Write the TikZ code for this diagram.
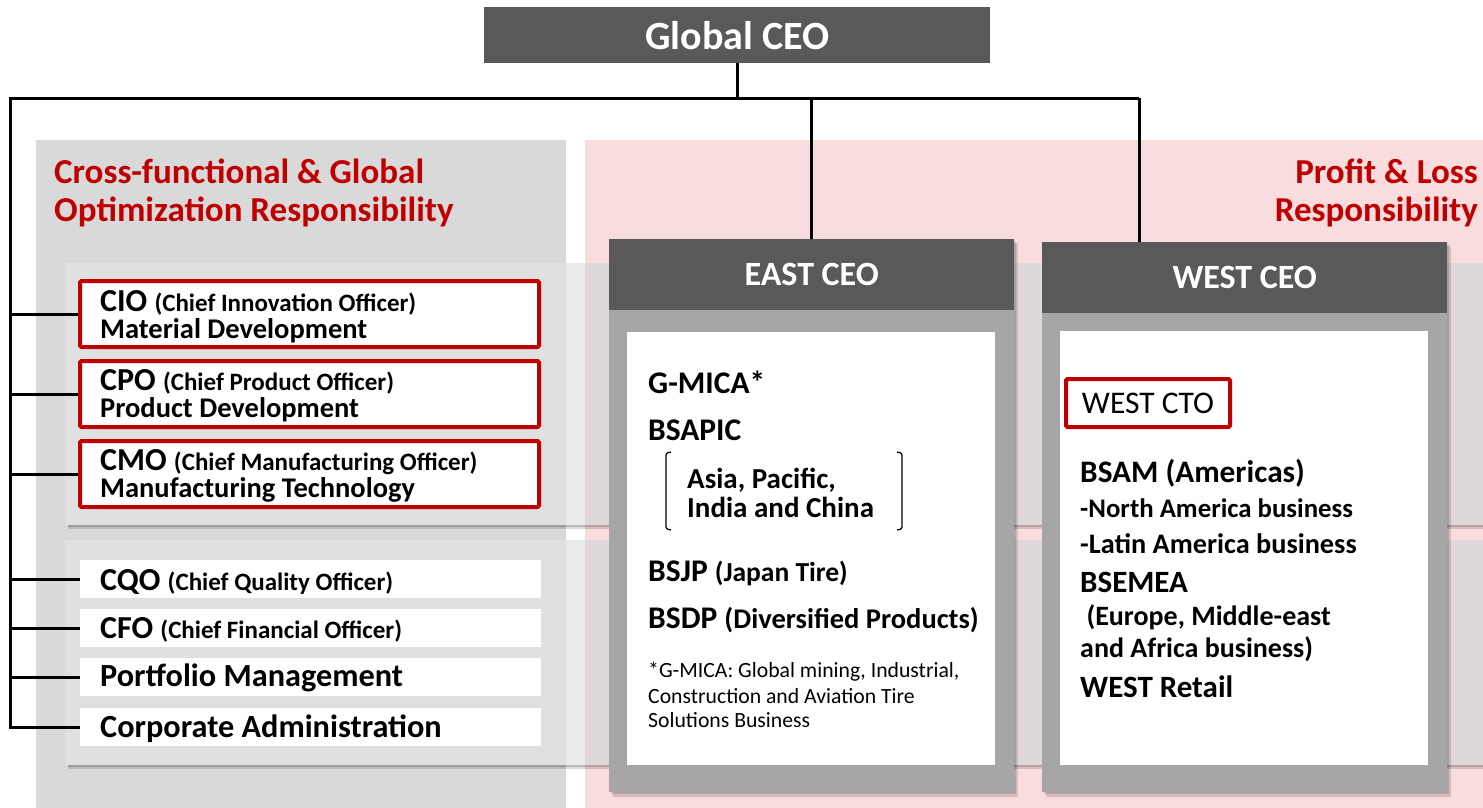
\documentclass[tikz,border=0pt]{standalone}
\usepackage{fontspec}
\setmainfont{Carlito}
\definecolor{dg}{HTML}{595959}
\definecolor{mg}{HTML}{A6A6A6}
\definecolor{lg}{HTML}{D9D9D9}
\definecolor{pk}{HTML}{F9DCDD}
\definecolor{rd}{HTML}{C00000}
\definecolor{bandg}{HTML}{E0E0E0}
\definecolor{bandw}{HTML}{EAEAEA}
\definecolor{bandp}{HTML}{DED8D9}
\newcommand{\fs}[1]{\fontsize{#1}{#1}\selectfont}
\begin{document}
\begin{tikzpicture}[x=1pt,y=-1pt,
  conn/.style={line width=3pt, black},
  redbox/.style={draw=rd, line width=4pt, rounded corners=1.5pt, fill=white, inner sep=0pt, minimum width=459pt, minimum height=66pt},
  whitebox/.style={fill=white, inner sep=0pt, minimum width=461pt, minimum height=38pt},
  hdr/.style={fill=dg, text=white, inner sep=0pt, anchor=north west, minimum width=405pt, minimum height=71pt, font=\bfseries\fs{34}},
  txt/.style={anchor=base west, inner sep=0pt, font=\bfseries},
  ttl/.style={inner sep=0pt, text=rd, font=\bfseries\fs{35}},
  shd/.style={fill=black, opacity=0.14}
]
\useasboundingbox (0,0) rectangle (1483,808);
% panels
\fill[lg] (36,140) rectangle (566,808);
\fill[pk] (585,140) rectangle (1483,808);
\node[ttl, anchor=base west] (t1) at (54,183) {Cross-functional \& Global};
\node[ttl, anchor=base west] (t2) at (54,221) {Optimization Responsibility};
\node[ttl, anchor=base east] (t3) at (1478,183) {Profit \& Loss};
\node[ttl, anchor=base east] (t4) at (1478,221) {Responsibility};
% bands
\foreach \a/\b in {263/525, 540/765}{
  \fill[shd] (68,\a+3) rectangle (1483,\b+4);
  \fill[shd] (68,\a+2) rectangle (1483,\b+2);
  \fill[bandg] (65,\a) rectangle (566,\b);
  \fill[bandw] (566,\a) rectangle (585,\b);
  \fill[bandp] (585,\a) rectangle (1483,\b);
}
% global CEO
\node[fill=dg, text=white, inner sep=0pt, anchor=north west, minimum width=506pt, minimum height=56pt, font=\bfseries\fs{40}] (gceo) at (484,7) {Global CEO};
% left boxes
\node[redbox] (cio) at (309.5,314) {};
\node[redbox] (cpo) at (309.5,394) {};
\node[redbox] (cmo) at (309.5,474) {};
\node[whitebox] (cqo) at (310.5,579) {};
\node[whitebox] (cfo) at (310.5,628) {};
\node[whitebox] (pm) at (310.5,677) {};
\node[whitebox] (corp) at (310.5,727) {};
\node[txt] (cio1) at (100,311) {\fs{32}CIO \fs{25}(Chief Innovation Officer)};
\node[txt] (cio2) at (100,338) {\fs{28.5}Material Development};
\node[txt] (cpo1) at (100,390) {\fs{32}CPO \fs{25}(Chief Product Officer)};
\node[txt] (cpo2) at (100,417) {\fs{28.5}Product Development};
\node[txt] (cmo1) at (100,470) {\fs{32}CMO \fs{25}(Chief Manufacturing Officer)};
\node[txt] (cmo2) at (100,497) {\fs{28.5}Manufacturing Technology};
\node[txt] (cqo1) at (100,590) {\fs{32}CQO \fs{25}(Chief Quality Officer)};
\node[txt] (cfo1) at (100,638) {\fs{32}CFO \fs{25}(Chief Financial Officer)};
\node[txt] (pm1) at (100,686) {\fs{32.3}Portfolio Management};
\node[txt] (corp1) at (100,737) {\fs{32.3}Corporate Administration};
% connectors
\coordinate (lt) at (10,98);
\coordinate (rt) at (1139,98);
\draw[conn] (gceo.south) -- (gceo.south |- lt);
\draw[conn] (rt) -- (lt) -- (lt |- corp.west) -- (corp.west);
\foreach \n in {cio,cpo,cmo,cqo,cfo,pm}{
  \draw[conn] (lt |- \n.west) -- (\n.west);
}
% EAST
\fill[shd] (613,243) rectangle (1018,797);
\fill[shd] (611,241) rectangle (1016,794);
\fill[mg] (609,239) rectangle (1014,792);
\node[hdr] (east) at (609,239) {EAST CEO};
\fill[white] (627,332) rectangle (995,765);
\draw[conn] (east.north |- lt) -- (east.north);
\node[txt] (e1) at (648,393) {\fs{31.5}G-MICA*};
\node[txt] (e2) at (648,440) {\fs{31.5}BSAPIC};
\node[txt] (e3) at (687,488) {\fs{29}Asia, Pacific,};
\node[txt] (e4) at (687,517) {\fs{29}India and China};
\draw[line width=1.3pt] (671,452) .. controls (666,453) .. (666,458) -- (666,524) .. controls (666,529) .. (671,530);
\draw[line width=1.3pt] (897,452) .. controls (902,453) .. (902,458) -- (902,524) .. controls (902,529) .. (897,530);
\node[txt] (e5) at (648,581) {\fs{31.5}BSJP \fs{27.5}(Japan Tire)};
\node[txt] (e6) at (648,628) {\fs{31.5}BSDP \fs{28.5}(Diversified Products)};
\node[anchor=base west, inner sep=0pt, font=\fs{21.7}] (e7) at (648,677) {*G-MICA: Global mining, Industrial,};
\node[anchor=base west, inner sep=0pt, font=\fs{21.7}] (e8) at (648,703) {Construction and Aviation Tire};
\node[anchor=base west, inner sep=0pt, font=\fs{21.7}] (e9) at (648,727) {Solutions Business};
% WEST
\fill[shd] (1046,246) rectangle (1451,797);
\fill[shd] (1044,244) rectangle (1449,794);
\fill[mg] (1042,242) rectangle (1447,792);
\node[hdr] (west) at (1042,242) {WEST CEO};
\fill[white] (1060,331) rectangle (1428,765);
\draw[conn] (rt) -- (rt |- west.north);
\node[draw=rd, line width=4pt, rounded corners=1.5pt, fill=white, inner sep=0pt, minimum width=164pt, minimum height=48pt, font=\fs{31.5}] (wcto) at (1148,403) {WEST CTO};
\node[txt] (w1) at (1080,482) {\fs{31.3}BSAM (Americas)};
\node[txt] (w2) at (1080,517) {\fs{26.8}-North America business};
\node[txt] (w3) at (1080,553) {\fs{28.3}-Latin America business};
\node[txt] (w4) at (1080,592) {\fs{31}BSEMEA};
\node[txt] (w5) at (1080,625) {\fs{28}\ (Europe, Middle-east};
\node[txt] (w6) at (1080,657) {\fs{28}and Africa business)};
\node[txt] (w7) at (1080,697) {\fs{31}WEST Retail};
\end{tikzpicture}
\end{document}
